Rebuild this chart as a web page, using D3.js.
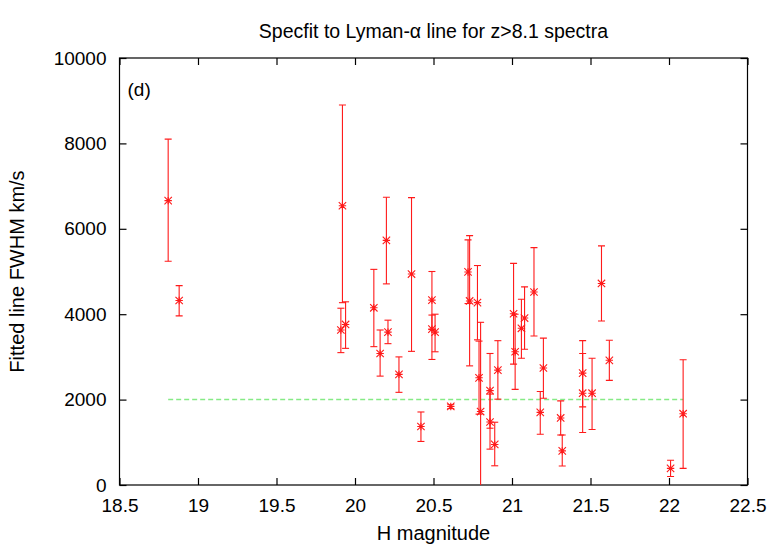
<!DOCTYPE html>
<meta charset="utf-8">
<script src="https://d3js.org/d3.v7.min.js"></script>
<style>
  body { margin: 0; background: #fff; }
  text { font-family: "Liberation Sans", Arial, sans-serif; fill: #000; }
</style>
<div id="my_dataviz"></div>
<script>

// H magnitude of each spectrum
var hmag = [18.81, 18.88, 19.91, 19.92, 19.94, 20.12, 20.16, 20.20, 20.21, 20.28,
            20.36, 20.42, 20.49, 20.49, 20.51, 20.61, 20.72, 20.73, 20.78, 20.79,
            20.80, 20.86, 20.86, 20.89, 20.91, 21.01, 21.02, 21.06, 21.08, 21.14,
            21.18, 21.20, 21.31, 21.32, 21.45, 21.45, 21.51, 21.57, 21.62, 22.01, 22.09];
// fitted FWHM (km/s)
var fwhm = [6660, 4320, 3630, 6540, 3760, 4150, 3080, 5730, 3580, 2590,
            4940, 1370, 4330, 3650, 3580, 1840, 4990, 4310, 4270, 2510,
            1720, 1475, 2210, 950, 2690, 4010, 3120, 3670, 3910, 4520,
            1700, 2740, 1570, 800, 2620, 2150, 2150, 4720, 2920, 390, 1670];
// lower / upper ends of the error bars
var fwhmLo = [5240, 3960, 3100, 4270, 3200, 3240, 2550, 4710, 3310, 2170,
              3130, 1020, 3640, 2940, 3120, 1790, 4250, 2790, 3400, 1660,
              -500, 840, 1330, 450, 2010, 2830, 2240, 2970, 3180, 3490,
              1190, 2030, 1170, 445, 1830, 1230, 1300, 3840, 2450, 200, 390];
var fwhmHi = [8100, 4670, 4140, 8900, 4290, 5050, 3630, 6740, 3860, 3000,
              6730, 1710, 5000, 3980, 4000, 1880, 5740, 5840, 5140, 3370,
              3810, 2130, 3080, 1470, 3380, 5190, 4000, 4350, 4640, 5560,
              2190, 3440, 1970, 1170, 3380, 3080, 2970, 5600, 3390, 580, 2935];

var xTicks = [18.5, 19, 19.5, 20, 20.5, 21, 21.5, 22, 22.5];
var yTicks = [0, 2000, 4000, 6000, 8000, 10000];
var refLevel = 2000;

var margin = {top: 58, right: 35.5, bottom: 63, left: 119.5},
    width = 783 - margin.left - margin.right,
    height = 548 - margin.top - margin.bottom;

var svg = d3.select("#my_dataviz")
  .append("svg")
    .attr("width", 783)
    .attr("height", 548);

var g = svg.append("g")
    .attr("transform", "translate(" + margin.left + "," + margin.top + ")");

var x = d3.scaleLinear().domain([18.5, 22.5]).range([0, width]);
var y = d3.scaleLinear().domain([0, 10000]).range([height, 0]);

g.append("clipPath").attr("id", "clip")
  .append("rect").attr("width", width).attr("height", height);

var tk = 7;
// bottom + top ticks
g.append("g")
    .attr("transform", "translate(0," + height + ")")
    .call(d3.axisBottom(x).tickValues(xTicks).tickSizeInner(-tk).tickSizeOuter(0).tickPadding(14)
      .tickFormat(function(d) { return String(d); }))
    .call(function(a) { a.select(".domain").remove(); a.selectAll("text").style("font-size", "19px"); });
g.append("g")
    .call(d3.axisTop(x).tickValues(xTicks).tickSizeInner(-tk).tickSizeOuter(0).tickFormat(""))
    .select(".domain").remove();
// left + right ticks
g.append("g")
    .call(d3.axisLeft(y).tickValues(yTicks).tickSizeInner(-tk).tickSizeOuter(0).tickPadding(13)
      .tickFormat(d3.format("d")))
    .call(function(a) { a.select(".domain").remove(); a.selectAll("text").style("font-size", "19px"); });
g.append("g")
    .attr("transform", "translate(" + width + ",0)")
    .call(d3.axisRight(y).tickValues(yTicks).tickSizeInner(-tk).tickSizeOuter(0).tickFormat(""))
    .select(".domain").remove();

g.selectAll(".tick line").attr("stroke", "#000").attr("stroke-width", 1.2);

// frame
g.append("rect")
    .attr("width", width).attr("height", height)
    .attr("fill", "none").attr("stroke", "#000").attr("stroke-width", 1.2);

// reference line
g.append("line")
    .attr("x1", x(d3.min(hmag))).attr("x2", x(d3.max(hmag)))
    .attr("y1", y(refLevel)).attr("y2", y(refLevel))
    .attr("stroke", "#86ea86").attr("stroke-width", 1.5)
    .attr("stroke-dasharray", "5,3");

// error bars + star markers
var pts = hmag.map(function(h, i) { return {x: h, y: fwhm[i], lo: fwhmLo[i], hi: fwhmHi[i]}; });
var red = "#ff1a1a", cap = 3.5, s = 3.7;

var marks = g.append("g").attr("clip-path", "url(#clip)")
  .selectAll("g").data(pts).enter().append("g")
    .attr("stroke", red).attr("stroke-width", 1.1).attr("fill", "none");

marks.append("line")
    .attr("x1", function(d) { return x(d.x); }).attr("x2", function(d) { return x(d.x); })
    .attr("y1", function(d) { return y(d.lo); }).attr("y2", function(d) { return y(d.hi); });
marks.append("line")
    .attr("x1", function(d) { return x(d.x) - cap; }).attr("x2", function(d) { return x(d.x) + cap; })
    .attr("y1", function(d) { return y(d.lo); }).attr("y2", function(d) { return y(d.lo); });
marks.append("line")
    .attr("x1", function(d) { return x(d.x) - cap; }).attr("x2", function(d) { return x(d.x) + cap; })
    .attr("y1", function(d) { return y(d.hi); }).attr("y2", function(d) { return y(d.hi); });
marks.append("path")
    .attr("d", function(d) {
      var cx = x(d.x), cy = y(d.y);
      return "M" + (cx - s) + "," + cy + "H" + (cx + s) +
             "M" + cx + "," + (cy - s) + "V" + (cy + s) +
             "M" + (cx - s) + "," + (cy - s) + "L" + (cx + s) + "," + (cy + s) +
             "M" + (cx - s) + "," + (cy + s) + "L" + (cx + s) + "," + (cy - s);
    });

// panel label
g.append("text")
    .attr("x", 8).attr("y", 38)
    .style("font-size", "19px")
    .text("(d)");

// title
svg.append("text")
    .attr("x", margin.left + width / 2).attr("y", 38)
    .attr("text-anchor", "middle")
    .style("font-size", "19.5px")
    .text("Specfit to Lyman-\u03b1 line for z>8.1 spectra");

// axis labels
svg.append("text")
    .attr("x", margin.left + width / 2).attr("y", 540)
    .attr("text-anchor", "middle")
    .style("font-size", "20px")
    .text("H magnitude");

svg.append("text")
    .attr("transform", "translate(24," + (margin.top + height / 2) + ") rotate(-90)")
    .attr("text-anchor", "middle")
    .style("font-size", "20px")
    .text("Fitted line FWHM km/s");

</script>
